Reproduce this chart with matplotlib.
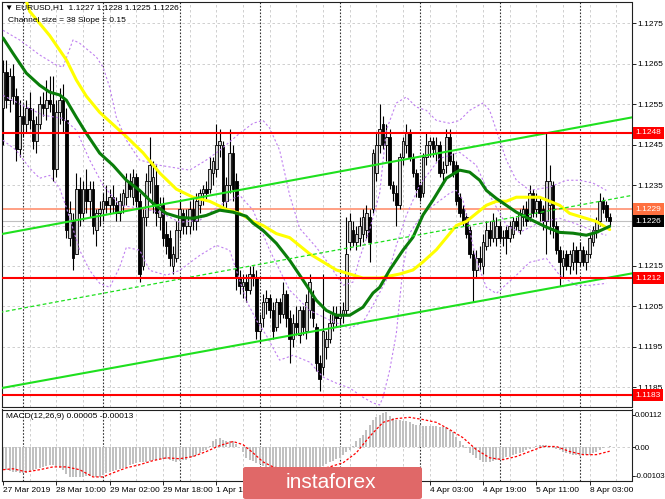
import numpy as np
import matplotlib
matplotlib.use("Agg")
import matplotlib.pyplot as plt
import matplotlib.transforms as mtransforms
from matplotlib.patches import FancyBboxPatch

plt.rcParams['font.family'] = ['Liberation Sans', 'DejaVu Sans']

# ==========================================
# Data (EURUSD H1, bars counted from 28 Mar 00:00)
# ==========================================
first_bar = -6

opens = [1.1254, 1.1263, 1.1256, 1.1262, 1.1257, 1.1244, 1.1252, 1.1250, 1.1254, 1.1251, 1.1246, 1.1250,
         1.1255, 1.1254, 1.1256, 1.1255, 1.1239, 1.1253, 1.1256, 1.1251, 1.1222, 1.1226, 1.1218, 1.1234,
         1.1228, 1.1234, 1.1231, 1.1234, 1.1224, 1.1228, 1.1229, 1.1231, 1.1230, 1.1232, 1.1230, 1.1228,
         1.1230, 1.1232, 1.1236, 1.1232, 1.1237, 1.1231, 1.1215, 1.1227, 1.1236, 1.1230, 1.1235, 1.1227,
         1.1230, 1.1223, 1.1222, 1.1215, 1.1217, 1.1224, 1.1228, 1.1225, 1.1225, 1.1229, 1.1226, 1.1230,
         1.1233, 1.1234, 1.1234, 1.1238, 1.1239, 1.1245, 1.1245, 1.1231, 1.1235, 1.1243, 1.1236, 1.1212,
         1.1210, 1.1211, 1.1209, 1.1213, 1.1212, 1.1199, 1.1202, 1.1206, 1.1207, 1.1204, 1.1200, 1.1206,
         1.1203, 1.1208, 1.1202, 1.1197, 1.1201, 1.1198, 1.1204, 1.1199, 1.1204, 1.1207, 1.1200, 1.1191,
         1.1190, 1.1195, 1.1197, 1.1201, 1.1203, 1.1202, 1.1203, 1.1204, 1.1221, 1.1224, 1.1221, 1.1222,
         1.1223, 1.1224, 1.1227, 1.1229, 1.1238, 1.1245, 1.1250, 1.1245, 1.1247, 1.1235, 1.1233, 1.1230,
         1.1242, 1.1245, 1.1248, 1.1242, 1.1238, 1.1235, 1.1233, 1.1242, 1.1245, 1.1246, 1.1243, 1.1245,
         1.1238, 1.1240, 1.1247, 1.1241, 1.1240, 1.1232, 1.1229, 1.1227, 1.1224, 1.1218, 1.1214, 1.1217,
         1.1215, 1.1220, 1.1224, 1.1222, 1.1222, 1.1225, 1.1222, 1.1224, 1.1222, 1.1223, 1.1226, 1.1224,
         1.1227, 1.1229, 1.1227, 1.1233, 1.1229, 1.1231, 1.1229, 1.1226, 1.1230, 1.1235, 1.1225, 1.1219,
         1.1215, 1.1218, 1.1215, 1.1216, 1.1219, 1.1216, 1.1219, 1.1216, 1.1218, 1.1221, 1.1224, 1.1226,
         1.1231, 1.1230, 1.1227]
highs = [1.1266, 1.1266, 1.1264, 1.1265, 1.1259, 1.1256, 1.1255, 1.1256, 1.1258, 1.1254, 1.1252, 1.1257,
         1.1258, 1.1261, 1.1262, 1.1262, 1.1256, 1.1259, 1.1260, 1.1254, 1.1231, 1.1228, 1.1238, 1.1237,
         1.1236, 1.1239, 1.1236, 1.1236, 1.1229, 1.1231, 1.1233, 1.1235, 1.1234, 1.1235, 1.1232, 1.1233,
         1.1234, 1.1238, 1.1238, 1.1239, 1.1238, 1.1233, 1.1229, 1.1238, 1.1247, 1.1241, 1.1240, 1.1232,
         1.1232, 1.1226, 1.1224, 1.1220, 1.1226, 1.1231, 1.1229, 1.1229, 1.1231, 1.1232, 1.1233, 1.1234,
         1.1235, 1.1236, 1.1242, 1.1242, 1.1250, 1.1249, 1.1246, 1.1237, 1.1249, 1.1245, 1.1238, 1.1214,
         1.1213, 1.1213, 1.1215, 1.1215, 1.1214, 1.1203, 1.1208, 1.1209, 1.1208, 1.1206, 1.1207, 1.1207,
         1.1211, 1.1209, 1.1204, 1.1203, 1.1205, 1.1205, 1.1205, 1.1208, 1.1213, 1.1209, 1.1201, 1.1193,
         1.1213, 1.1199, 1.1203, 1.1205, 1.1205, 1.1205, 1.1206, 1.1227, 1.1228, 1.1226, 1.1225, 1.1227,
         1.1229, 1.1230, 1.1229, 1.1244, 1.1248, 1.1255, 1.1252, 1.1250, 1.1249, 1.1236, 1.1235, 1.1243,
         1.1247, 1.1250, 1.1249, 1.1243, 1.1239, 1.1236, 1.1243, 1.1248, 1.1247, 1.1247, 1.1247, 1.1246,
         1.1241, 1.1249, 1.1249, 1.1243, 1.1241, 1.1233, 1.1230, 1.1228, 1.1225, 1.1219, 1.1219, 1.1220,
         1.1223, 1.1226, 1.1226, 1.1228, 1.1227, 1.1226, 1.1224, 1.1225, 1.1226, 1.1227, 1.1227, 1.1229,
         1.1230, 1.1231, 1.1235, 1.1234, 1.1233, 1.1232, 1.1230, 1.1248, 1.1240, 1.1236, 1.1226, 1.1220,
         1.1219, 1.1219, 1.1219, 1.1221, 1.1220, 1.1221, 1.1220, 1.1219, 1.1223, 1.1225, 1.1227, 1.1233,
         1.1232, 1.1231, 1.1228]
lows = [1.1245, 1.1254, 1.1253, 1.1255, 1.1241, 1.1242, 1.1247, 1.1248, 1.1249, 1.1244, 1.1243, 1.1249,
        1.1252, 1.1251, 1.1253, 1.1236, 1.1237, 1.1250, 1.1248, 1.1222, 1.1220, 1.1214, 1.1218, 1.1225,
        1.1226, 1.1228, 1.1227, 1.1223, 1.1220, 1.1225, 1.1226, 1.1228, 1.1228, 1.1228, 1.1226, 1.1226,
        1.1228, 1.1230, 1.1232, 1.1230, 1.1229, 1.1211, 1.1214, 1.1225, 1.1233, 1.1228, 1.1225, 1.1224,
        1.1220, 1.1218, 1.1215, 1.1213, 1.1216, 1.1222, 1.1223, 1.1223, 1.1223, 1.1224, 1.1224, 1.1228,
        1.1230, 1.1231, 1.1233, 1.1235, 1.1237, 1.1242, 1.1229, 1.1229, 1.1233, 1.1231, 1.1209, 1.1208,
        1.1207, 1.1206, 1.1208, 1.1210, 1.1197, 1.1196, 1.1200, 1.1203, 1.1202, 1.1197, 1.1199, 1.1201,
        1.1202, 1.1200, 1.1191, 1.1195, 1.1198, 1.1196, 1.1198, 1.1197, 1.1202, 1.1200, 1.1189, 1.1184,
        1.1188, 1.1192, 1.1196, 1.1199, 1.1200, 1.1200, 1.1201, 1.1203, 1.1219, 1.1220, 1.1219, 1.1220,
        1.1221, 1.1222, 1.1216, 1.1228, 1.1236, 1.1243, 1.1244, 1.1241, 1.1234, 1.1231, 1.1225, 1.1229,
        1.1240, 1.1243, 1.1241, 1.1237, 1.1232, 1.1231, 1.1232, 1.1240, 1.1242, 1.1242, 1.1241, 1.1237,
        1.1236, 1.1238, 1.1240, 1.1237, 1.1230, 1.1227, 1.1225, 1.1222, 1.1217, 1.1206, 1.1212, 1.1214,
        1.1213, 1.1219, 1.1220, 1.1221, 1.1220, 1.1221, 1.1220, 1.1218, 1.1221, 1.1222, 1.1224, 1.1223,
        1.1225, 1.1225, 1.1226, 1.1227, 1.1227, 1.1226, 1.1224, 1.1218, 1.1223, 1.1222, 1.1218, 1.1210,
        1.1212, 1.1214, 1.1213, 1.1214, 1.1213, 1.1215, 1.1215, 1.1214, 1.1217, 1.1220, 1.1222, 1.1225,
        1.1228, 1.1226, 1.1225]
closes = [1.1263, 1.1256, 1.1262, 1.1257, 1.1244, 1.1252, 1.1250, 1.1254, 1.1251, 1.1246, 1.1250, 1.1255,
          1.1254, 1.1256, 1.1255, 1.1239, 1.1253, 1.1256, 1.1251, 1.1224, 1.1228, 1.1217, 1.1234, 1.1228,
          1.1234, 1.1231, 1.1234, 1.1225, 1.1228, 1.1229, 1.1231, 1.1230, 1.1232, 1.1230, 1.1228, 1.1231,
          1.1233, 1.1236, 1.1234, 1.1237, 1.1231, 1.1213, 1.1227, 1.1236, 1.1240, 1.1237, 1.1228, 1.1230,
          1.1222, 1.1220, 1.1217, 1.1218, 1.1224, 1.1229, 1.1225, 1.1227, 1.1229, 1.1226, 1.1231, 1.1233,
          1.1234, 1.1233, 1.1239, 1.1241, 1.1245, 1.1246, 1.1231, 1.1235, 1.1243, 1.1234, 1.1212, 1.1210,
          1.1211, 1.1209, 1.1213, 1.1212, 1.1199, 1.1201, 1.1206, 1.1207, 1.1204, 1.1199, 1.1206, 1.1203,
          1.1208, 1.1202, 1.1197, 1.1201, 1.1200, 1.1204, 1.1200, 1.1206, 1.1211, 1.1202, 1.1191, 1.1187,
          1.1199, 1.1197, 1.1201, 1.1203, 1.1202, 1.1203, 1.1204, 1.1218, 1.1226, 1.1221, 1.1223, 1.1225,
          1.1227, 1.1228, 1.1221, 1.1243, 1.1245, 1.1249, 1.1245, 1.1247, 1.1235, 1.1233, 1.1230, 1.1242,
          1.1246, 1.1248, 1.1242, 1.1238, 1.1234, 1.1232, 1.1242, 1.1245, 1.1246, 1.1244, 1.1245, 1.1238,
          1.1239, 1.1247, 1.1241, 1.1238, 1.1231, 1.1228, 1.1226, 1.1223, 1.1218, 1.1214, 1.1217, 1.1216,
          1.1221, 1.1224, 1.1222, 1.1226, 1.1225, 1.1222, 1.1222, 1.1222, 1.1225, 1.1226, 1.1225, 1.1228,
          1.1229, 1.1226, 1.1233, 1.1228, 1.1231, 1.1228, 1.1226, 1.1236, 1.1236, 1.1225, 1.1219, 1.1216,
          1.1217, 1.1215, 1.1218, 1.1219, 1.1216, 1.1219, 1.1216, 1.1218, 1.1222, 1.1224, 1.1226, 1.1231,
          1.1229, 1.1227, 1.1226]

# moving averages (bar, price)
yellow_bars = [0, 2, 8, 13, 16, 19, 23, 27, 31, 36, 41, 46, 51, 56, 61, 65, 69, 72, 76, 80,
               83, 86, 90, 94, 98, 102, 107, 113, 117, 120, 124, 127, 130, 133, 136, 139, 142, 145, 148, 151,
               155, 158, 161, 164, 168, 172, 176]
yellow_ma = [1.1283, 1.1278, 1.1272, 1.1266, 1.1261, 1.1257, 1.1253, 1.1250, 1.1247, 1.1243,
             1.1238, 1.1234, 1.1232, 1.1231, 1.1229, 1.1228, 1.1226, 1.1225, 1.1223, 1.1222,
             1.1220, 1.1218, 1.1216, 1.1214, 1.1213, 1.1212, 1.1212, 1.1213, 1.1214, 1.1216,
             1.1219, 1.1222, 1.1225, 1.1226, 1.1228, 1.1230, 1.1231, 1.1231, 1.1232, 1.1232,
             1.1232, 1.1231, 1.1230, 1.1228, 1.1227, 1.1226, 1.1224]
green_bars = [-6, -3, 1, 5, 8, 11, 13, 16, 19, 23, 27, 31, 35, 39, 43, 47, 51, 55, 59, 63,
              67, 69, 72, 76, 80, 84, 88, 91, 94, 98, 102, 105, 107, 110, 114, 117, 120, 123, 127, 131,
              134, 137, 139, 142, 145, 148, 151, 154, 157, 161, 165, 169, 172, 176]
green_ma = [1.12714, 1.12676, 1.12627, 1.12597, 1.12580, 1.12573, 1.12560, 1.12518, 1.12478, 1.12429,
            1.12399, 1.12362, 1.12337, 1.12305, 1.12280, 1.12270, 1.12268, 1.12275, 1.12288, 1.12283,
            1.12273, 1.12256, 1.12238, 1.12206, 1.12164, 1.12115, 1.12065, 1.12040, 1.12028, 1.12028,
            1.12048, 1.12083, 1.12097, 1.12140, 1.12189, 1.12221, 1.12276, 1.12313, 1.12367, 1.12387,
            1.12382, 1.12362, 1.12337, 1.12317, 1.12300, 1.12283, 1.12270, 1.12258, 1.12246, 1.12233,
            1.12231, 1.12226, 1.12233, 1.12248]

# bollinger bands (bar, price)
bb_up_bars = [-6, -1, 5, 10, 12, 15, 17, 22, 24, 26, 28, 31, 35, 41, 50, 55, 59, 65, 69, 72,
              74, 77, 80, 83, 88, 92, 96, 99, 101, 104, 107, 109, 112, 115, 118, 121, 124, 128, 131, 134,
              138, 140, 143, 145, 148, 152, 158, 163, 167, 171, 175]
bb_up = [1.12733, 1.12709, 1.12672, 1.12647, 1.12642, 1.12709, 1.12701, 1.12667, 1.12642, 1.12592,
         1.12518, 1.12461, 1.12412, 1.12399, 1.12387, 1.12412, 1.12436, 1.12478, 1.12503, 1.12510,
         1.12491, 1.12436, 1.12325, 1.12243, 1.12196, 1.12152, 1.12102, 1.12110, 1.12170, 1.12240,
         1.12330, 1.12486, 1.12553, 1.12568, 1.12543, 1.12535, 1.12510, 1.12503, 1.12510, 1.12535,
         1.12553, 1.12535, 1.12461, 1.12412, 1.12362, 1.12337, 1.12345, 1.12362, 1.12362, 1.12355,
         1.12337]
bb_mid_bars = [-6, 0, 6, 12, 16, 20, 24, 29, 35, 41, 47, 53, 59, 65, 69, 74, 80, 86, 92, 98,
               102, 105, 109, 112, 115, 119, 125, 131, 136, 140, 145, 149, 155, 161, 167, 172, 175]
bb_mid = [1.12572, 1.12547, 1.12523, 1.12515, 1.12486, 1.12412, 1.12350, 1.12300, 1.12293, 1.12283,
          1.12258, 1.12263, 1.12300, 1.12325, 1.12288, 1.12189, 1.12090, 1.12040, 1.12016, 1.11996,
          1.12011, 1.12053, 1.12115, 1.12201, 1.12275, 1.12350, 1.12416, 1.12431, 1.12399, 1.12325,
          1.12251, 1.12233, 1.12258, 1.12268, 1.12251, 1.12233, 1.12226]
bb_low_bars = [-6, -2, 2, 5, 8, 11, 13, 17, 20, 23, 26, 29, 31, 35, 38, 43, 47, 53, 58, 62,
               67, 70, 73, 77, 81, 86, 90, 94, 98, 102, 105, 107, 108, 110, 112, 114, 116, 120, 124, 128,
               130, 132, 134, 136, 139, 142, 144, 148, 152, 157, 161, 166, 170, 175]
bb_low = [1.12461, 1.12436, 1.12392, 1.12367, 1.12374, 1.12342, 1.12295, 1.12189, 1.12139, 1.12107,
          1.12097, 1.12147, 1.12196, 1.12189, 1.12139, 1.12127, 1.12139, 1.12176, 1.12201, 1.12189,
          1.12065, 1.12016, 1.11978, 1.11917, 1.11929, 1.11912, 1.11875, 1.11860, 1.11848, 1.11825,
          1.11811, 1.11806, 1.11825, 1.11892, 1.11983, 1.12147, 1.12231, 1.12280, 1.12305, 1.12330,
          1.12337, 1.12313, 1.12238, 1.12164, 1.12097, 1.12082, 1.12097, 1.12127, 1.12159, 1.12169,
          1.12127, 1.12102, 1.12102, 1.12107]

# equidistant channel (size 38, slope 0.15)
channel_bars = [-7, 183]
channel_upper = [1.12228, 1.12518]
channel_middle = [1.12035, 1.12325]
channel_lower = [1.11847, 1.12132]

red_levels = [1.1248, 1.1212, 1.1183]
orange_level = 1.1229
bid_price = 1.1226

# MACD(12,26,9)
macd_hist = [-0.00072, -0.00074, -0.00076, -0.00079, -0.00080, -0.00081, -0.00082, -0.00082, -0.00078, -0.00074, -0.00070, -0.00066,
             -0.00063, -0.00060, -0.00058, -0.00056, -0.00060, -0.00066, -0.00072, -0.00085, -0.00095, -0.00096, -0.00095, -0.00095,
             -0.00094, -0.00092, -0.00091, -0.00093, -0.00095, -0.00095, -0.00088, -0.00082, -0.00078, -0.00075, -0.00072, -0.00069,
             -0.00066, -0.00063, -0.00058, -0.00054, -0.00050, -0.00049, -0.00048, -0.00047, -0.00045, -0.00042, -0.00040, -0.00039,
             -0.00038, -0.00037, -0.00041, -0.00044, -0.00047, -0.00045, -0.00042, -0.00040, -0.00035, -0.00030, -0.00024, -0.00019,
             -0.00013, -0.00008, 0.00005, 0.00018, 0.00027, 0.00030, 0.00024, 0.00018, 0.00018, 0.00018, 0.00010, 0.00002,
             -0.00016, -0.00034, -0.00040, -0.00045, -0.00050, -0.00055, -0.00059, -0.00063, -0.00066, -0.00068, -0.00070, -0.00072,
             -0.00080, -0.00085, -0.00090, -0.00096, -0.00100, -0.00103, -0.00101, -0.00097, -0.00091, -0.00085, -0.00078, -0.00070,
             -0.00060, -0.00053, -0.00047, -0.00043, -0.00038, -0.00034, -0.00026, -0.00017, -0.00008, 0.00005, 0.00018, 0.00029,
             0.00040, 0.00056, 0.00072, 0.00088, 0.00096, 0.00104, 0.00108, 0.00112, 0.00098, 0.00093, 0.00088, 0.00086,
             0.00084, 0.00082, 0.00079, 0.00075, 0.00072, 0.00070, 0.00068, 0.00066, 0.00066, 0.00066, 0.00066, 0.00065,
             0.00064, 0.00063, 0.00055, 0.00047, 0.00032, 0.00018, 0.00008, -0.00002, -0.00018, -0.00026, -0.00034, -0.00040,
             -0.00047, -0.00047, -0.00047, -0.00045, -0.00042, -0.00040, -0.00037, -0.00033, -0.00030, -0.00026, -0.00022, -0.00018,
             -0.00014, -0.00009, -0.00005, 0.00000, 0.00005, 0.00006, 0.00007, 0.00008, 0.00003, -0.00002, -0.00006, -0.00010,
             -0.00014, -0.00018, -0.00021, -0.00024, -0.00026, -0.00027, -0.00026, -0.00025, -0.00024, -0.00019, -0.00014, -0.00009,
             -0.00004, 0.00000, 0.00005]
signal_bars = [-6, -3, 1, 5, 9, 13, 17, 21, 24, 27, 31, 35, 39, 43, 47, 51, 55, 59, 63, 66,
               69, 72, 75, 80, 86, 92, 96, 100, 104, 108, 112, 116, 120, 124, 128, 132, 136, 140, 144, 148,
               152, 156, 160, 164, 168, 172, 176]
signal_vals = [-0.00072, -0.00069, -0.00079, -0.00072, -0.00063, -0.00063, -0.00072, -0.00095, -0.00095, -0.00082,
               -0.00066, -0.00056, -0.00043, -0.00034, -0.00037, -0.00030, -0.00014, 0.00005, 0.00018, 0.00008,
               -0.00018, -0.00047, -0.00063, -0.00075, -0.00078, -0.00063, -0.00050, -0.00018, 0.00034, 0.00079,
               0.00091, 0.00095, 0.00088, 0.00079, 0.00056, 0.00030, -0.00008, -0.00034, -0.00040, -0.00030,
               -0.00014, 0.00002, 0.00002, -0.00014, -0.00024, -0.00024, -0.00013]

price_ticks = [1.1275, 1.1265, 1.1255, 1.1245, 1.1235, 1.1225, 1.1215, 1.1205, 1.1195, 1.1185]
macd_tick_labels = ['0.00112', '0.00', '-0.00103']
time_bars = [-6, 10, 26, 42, 58, 74, 90, 106, 122, 138, 154, 170]
# labels under the logo are hidden on the original, left blank here
time_labels = ['27 Mar 2019', '28 Mar 10:00', '29 Mar 02:00', '29 Mar 18:00', '1 Apr 11:00',
               '', '', '', '4 Apr 03:00', '4 Apr 19:00', '5 Apr 11:00', '8 Apr 03:00']
day_starts = [0, 24, 47, 71, 95, 119, 143, 167]

# ==========================================
# Figure layout (pixel based)
# ==========================================
W, H = 665, 499
fig = plt.figure(figsize=(W / 100, H / 100), dpi=100)
fig.patch.set_facecolor('white')


def px_box(left, top, right, bottom):
    return [left / W, 1 - bottom / H, (right - left) / W, (bottom - top) / H]


ax = fig.add_axes(px_box(2, 2, 631.5, 407))
axm = fig.add_axes(px_box(2, 409.5, 631.5, 481))

for a in (ax, axm):
    a.set_xlim(-6.3, 182.55)
    for s in a.spines.values():
        s.set_color('#202020')
        s.set_linewidth(0.8)
ax.set_ylim(1.11801, 1.12803)
axm.set_ylim(-0.00108, 0.00120)

# grid + day separators
grid_style = dict(color='#c8c8c8', lw=0.6, ls=(0, (3, 3)), zorder=1)
for p in price_ticks:
    ax.axhline(p, **grid_style)
axm.axhline(0, **grid_style)
for b in range(2, 183, 8):
    ax.axvline(b, **grid_style)
    axm.axvline(b, **grid_style)
for d in day_starts:
    ax.axvline(d, color='#333333', lw=0.8, ls=(0, (1.5, 1.5)), zorder=1.5)
    axm.axvline(d, color='#333333', lw=0.8, ls=(0, (1.5, 1.5)), zorder=1.5)

# bid / last-price lines
ax.axhline(bid_price, color='#c0c0c0', lw=0.8, zorder=2)
ax.axhline(orange_level, color='#ff9070', lw=1.2, zorder=2.2)

# candles
bars = np.arange(len(closes)) + first_bar
o = np.array(opens)
h = np.array(highs)
l = np.array(lows)
c = np.array(closes)
up = c >= o
ax.vlines(bars, l, h, color='black', lw=0.8, zorder=3)
body_lo = np.minimum(o, c)
body_h = np.maximum(np.abs(c - o), 0.00002)
ax.bar(bars[up], body_h[up], bottom=body_lo[up], width=0.72, color='#d0d0d0',
       edgecolor='black', lw=0.6, zorder=4)
ax.bar(bars[~up], body_h[~up], bottom=body_lo[~up], width=0.72, color='black',
       edgecolor='black', lw=0.6, zorder=4)

# indicators
bb_style = dict(color='#c080f0', lw=0.8, ls=(0, (2, 2)), zorder=5)
ax.plot(bb_up_bars, bb_up, **bb_style)
ax.plot(bb_mid_bars, bb_mid, **bb_style)
ax.plot(bb_low_bars, bb_low, **bb_style)
ax.plot(yellow_bars, yellow_ma, color='#ffff00', lw=2.2, zorder=6, solid_capstyle='round')
ax.plot(green_bars, green_ma, color='#0a7d0a', lw=2.2, zorder=6.5, solid_capstyle='round')

# objects: channel and horizontal levels
ax.plot(channel_bars, channel_upper, color='#1ee01e', lw=1.5, zorder=7)
ax.plot(channel_bars, channel_middle, color='#1ee01e', lw=0.9, ls=(0, (3, 2)), zorder=7)
ax.plot(channel_bars, channel_lower, color='#1ee01e', lw=1.5, zorder=7)
for lv in red_levels:
    ax.axhline(lv, color='#ff0000', lw=1.5, zorder=8)

# right price axis (1.1225 sits under the bid box)
ax.yaxis.tick_right()
ax.set_yticks(price_ticks)
ax.set_yticklabels(['' if p == 1.1225 else '%.4f' % p for p in price_ticks])
ax.tick_params(axis='y', length=3, width=0.6, pad=1.5, labelsize=6, colors='black')
ax.tick_params(axis='x', bottom=False, labelbottom=False)

trans = mtransforms.blended_transform_factory(ax.transAxes, ax.transData)
label_boxes = [(1.1248, '#ff0000'), (1.1229, '#ff7040'), (1.1226, '#000000'),
               (1.1212, '#ff0000'), (1.1183, '#ff0000')]
for val, col in label_boxes:
    ax.text(1.006, val, '%.4f' % val, transform=trans, ha='left', va='center',
            fontsize=6, color='white', clip_on=False, zorder=20,
            bbox=dict(boxstyle='square,pad=0.3', fc=col, ec='none'))

# MACD panel
axm.bar(bars, macd_hist, width=0.62, color='#c0c0c0', zorder=2)
axm.plot(signal_bars, signal_vals, color='#ff0000', lw=0.9, ls=(0, (2, 1.5)), zorder=3)
axm.yaxis.tick_right()
# MT4 prints the window max/min just inside the panel edges
axm.set_yticks([0.00104, 0.0, -0.00091])
axm.set_yticklabels(macd_tick_labels)
axm.tick_params(axis='y', length=2, width=0.6, pad=0.5, labelsize=5.7, colors='black')
axm.set_xticks(time_bars)
axm.set_xticklabels(time_labels, ha='left')
axm.tick_params(axis='x', length=3, width=0.6, pad=1.5, labelsize=6, colors='black')

# captions
fig.text(5 / W, 1 - 8 / H, '\u25bc EURUSD,H1  1.1227 1.1228 1.1225 1.1226', fontsize=6, va='center')
fig.text(8 / W, 1 - 20 / H, 'Channel size = 38 Slope = 0.15', fontsize=6, va='center')
fig.text(6 / W, 1 - 416 / H, 'MACD(12,26,9) 0.00005 -0.00013', fontsize=6, va='center')

# instaforex logo
logo = FancyBboxPatch((243 / W, 0), (422 - 243) / W, (499 - 467) / H,
                      boxstyle='round,pad=0,rounding_size=0.004', transform=fig.transFigure,
                      fc='#e06868', ec='none', zorder=10)
fig.add_artist(logo)
fig.text(331 / W, 1 - 483 / H, 'instaforex', fontsize=15, color='white', ha='center',
         va='center', zorder=11)

fig.savefig('out.png', dpi=100)
